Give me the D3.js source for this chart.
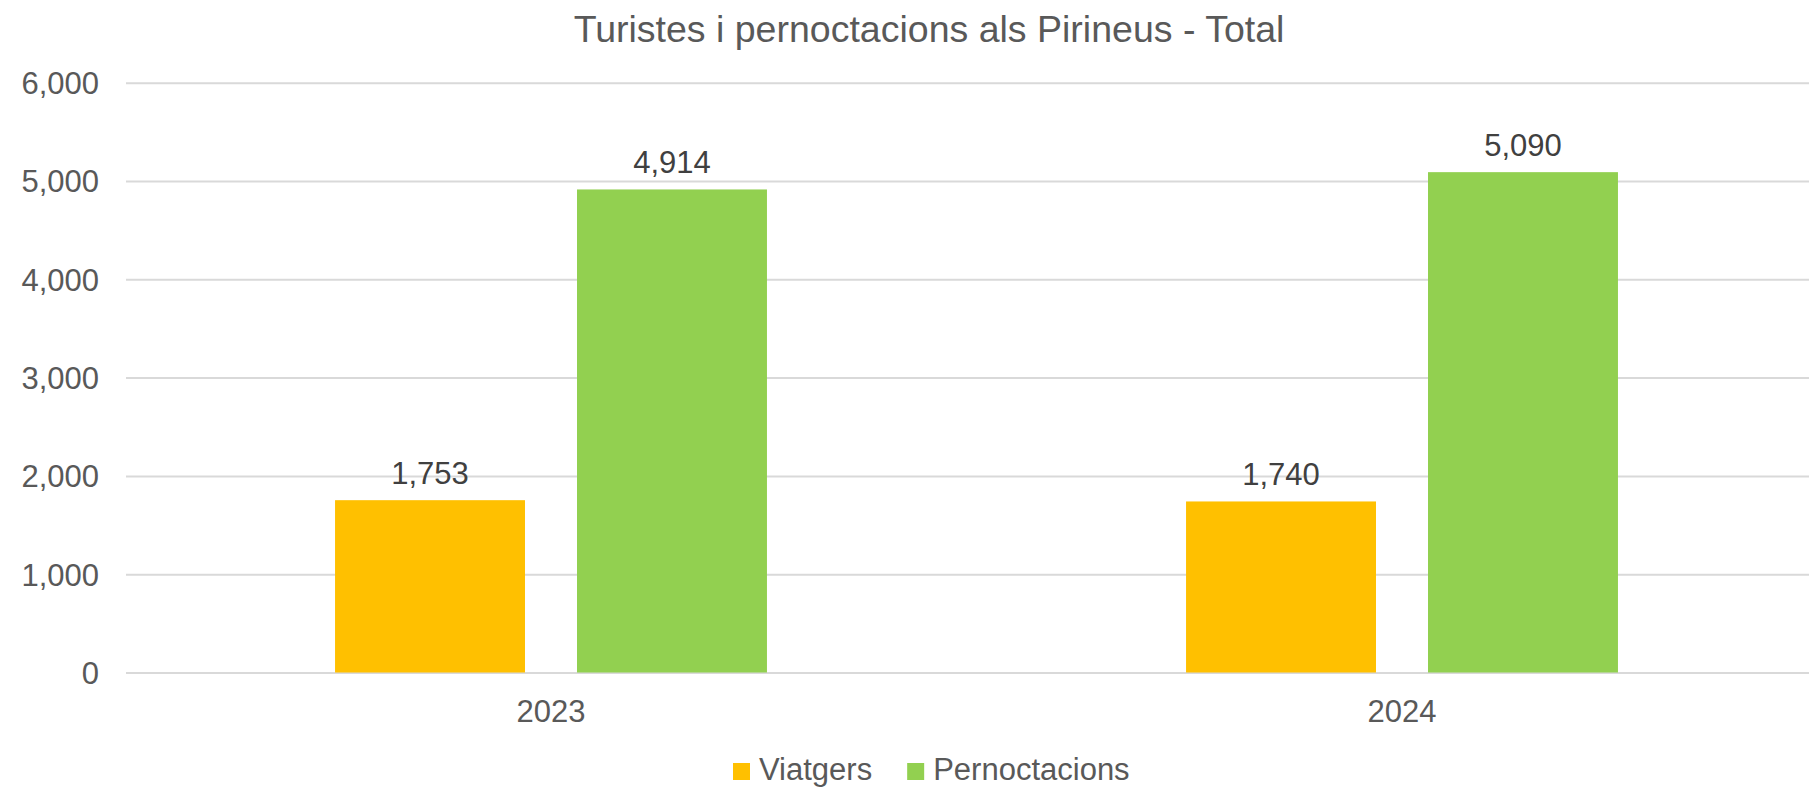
<!DOCTYPE html>
<html>
<head>
<meta charset="utf-8">
<script src="https://cdn.jsdelivr.net/npm/d3@7"></script>
<style>
  html, body { margin: 0; padding: 0; background: #fff; }
  svg text { font-family: Arial, "Liberation Sans", sans-serif; }
</style>
</head>
<body>
<div id="chart"></div>
<script>
// data
const years = ["2023", "2024"];
const seriesNames = ["Viatgers", "Pernoctacions"];
const viatgers = [1753, 1740];
const pernoctacions = [4914, 5090];
const yTicks = [0, 1000, 2000, 3000, 4000, 5000, 6000];
const titleText = "Turistes i pernoctacions als Pirineus - Total";

const colors = { Viatgers: "#FFC000", Pernoctacions: "#92D050" };

// layout
const width = 1809;
const height = 787;

const svg = d3
  .select("#chart")
  .append("svg")
  .attr("width", width)
  .attr("height", height);

// Scales (plot runs a little past the right edge, as in the original crop)
const xScale = d3.scaleBand().domain(years).range([125.5, 1827.5]).padding(0);
const xInner = d3
  .scaleBand()
  .domain(seriesNames)
  .range([0, xScale.bandwidth()])
  .paddingInner(0.215)
  .paddingOuter(0.866);
const yScale = d3.scaleLinear().domain([0, 6000]).range([672.5, 82.7]);

// Gridlines
const yGrid = d3
  .axisLeft(yScale)
  .tickValues(yTicks)
  .tickSize(-(width - 126))
  .tickFormat("");

svg
  .append("g")
  .attr("transform", "translate(126,0)")
  .call(yGrid)
  .call((g) => g.select(".domain").remove())
  .call((g) => g.selectAll("line").attr("stroke", "#d9d9d9").attr("stroke-width", 2));

// Y labels
const yAxisG = svg
  .append("g")
  .attr("transform", "translate(99,0)")
  .call(d3.axisLeft(yScale).tickValues(yTicks).tickSize(0).tickPadding(0).tickFormat(d3.format(",")));
yAxisG.select(".domain").remove();
yAxisG
  .selectAll("text")
  .attr("fill", "#595959")
  .style("font-size", "31px")
  .attr("dy", "0.35em");

// X labels
const xAxisG = svg
  .append("g")
  .attr("transform", "translate(0,672.5)")
  .call(d3.axisBottom(xScale).tickSize(0).tickPadding(0));
xAxisG.select(".domain").remove();
xAxisG
  .selectAll("text")
  .attr("fill", "#595959")
  .style("font-size", "31px")
  .attr("dy", null)
  .attr("y", 49.5);

// Bars
const rows = years.map((y, i) => ({
  year: y,
  values: [
    { key: "Viatgers", value: viatgers[i] },
    { key: "Pernoctacions", value: pernoctacions[i] },
  ],
}));

const groups = svg
  .selectAll(".year")
  .data(rows)
  .join("g")
  .attr("class", "year")
  .attr("transform", (d) => `translate(${xScale(d.year)},0)`);

groups
  .selectAll("rect")
  .data((d) => d.values)
  .join("rect")
  .attr("x", (d) => xInner(d.key))
  .attr("width", xInner.bandwidth())
  .attr("y", (d) => yScale(d.value))
  .attr("height", (d) => yScale(0) - yScale(d.value))
  .attr("fill", (d) => colors[d.key]);

// Data labels
groups
  .selectAll(".value-label")
  .data((d) => d.values)
  .join("text")
  .attr("class", "value-label")
  .attr("x", (d) => xInner(d.key) + xInner.bandwidth() / 2)
  .attr("y", (d) => yScale(d.value) - 16.5)
  .attr("text-anchor", "middle")
  .attr("fill", "#404040")
  .style("font-size", "31px")
  .text((d) => d3.format(",")(d.value));

// Title
svg
  .append("text")
  .attr("x", 929)
  .attr("y", 42)
  .attr("text-anchor", "middle")
  .attr("fill", "#595959")
  .style("font-size", "37.5px")
  .text(titleText);

// Legend
const legend = svg.append("g").attr("transform", "translate(733,0)");
let lx = 0;
seriesNames.forEach((name) => {
  legend
    .append("rect")
    .attr("x", lx)
    .attr("y", 763)
    .attr("width", 17)
    .attr("height", 17)
    .attr("fill", colors[name]);
  const t = legend
    .append("text")
    .attr("x", lx + 26)
    .attr("y", 780)
    .attr("fill", "#595959")
    .style("font-size", "31px")
    .text(name);
  lx += 26 + t.node().getComputedTextLength() + 35;
});
</script>
</body>
</html>
